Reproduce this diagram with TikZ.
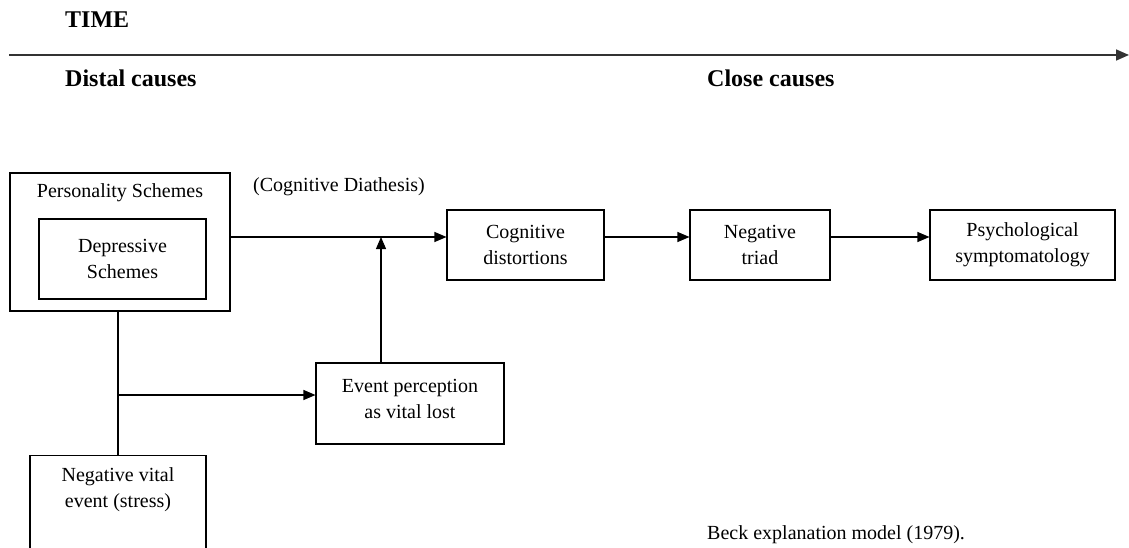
\documentclass[tikz,border=0pt]{standalone}
\usepackage{fontspec}
\setmainfont{Liberation Serif}
\usetikzlibrary{arrows.meta}
\newcommand{\bodyfont}{\fontsize{20}{26}\selectfont}
\newcommand{\headfont}{\fontsize{24}{28}\selectfont\bfseries}

\begin{document}
\begin{tikzpicture}[x=1pt,y=-1pt,
	box/.style={draw,line width=1.1pt,align=center,font=\bodyfont,inner sep=0pt},
	txt/.style={align=center,font=\bodyfont,inner sep=0pt},
	head/.style={anchor=west,font=\headfont,inner sep=0pt},
	flow/.style={line width=1.1pt,-{Triangle[length=12pt,width=10pt]}}]
	\useasboundingbox (0,0) rectangle (1129,548);
	\clip (0,0) rectangle (1129,548);
	% time axis
	\node[head] (time) at (65,20) {TIME};
	\coordinate (tstart) at (9,55);
	\coordinate (tend) at (1129,55);
	\draw[line width=1.6pt,draw=black!80,-{Triangle[length=13pt,width=11pt]}] (tstart) -- (tend);
	\node[head] (distal) at (65,78) {Distal causes};
	\node[head] (close) at (707,78) {Close causes};
	% schemes
	\node[box,minimum width=220pt,minimum height=138pt] (pers) at (120,242) {};
	\node[txt] (perstxt) at (120,193) {Personality Schemes};
	\node[box,minimum width=167pt,minimum height=80pt] (depr) at (122.5,259) {Depressive\\Schemes};
	\node[txt,anchor=west] (diath) at (253,187) {(Cognitive Diathesis)};
	% chain
	\node[box,minimum width=157pt,minimum height=70pt] (cogn) at (525.5,245) {Cognitive\\distortions};
	\node[box,minimum width=140pt,minimum height=70pt] (triad) at (760,245) {Negative\\triad};
	\node[box,minimum width=185pt,minimum height=70pt] (symp) at (1022.5,245) {Psychological\\symptomatology};
	\node[box,minimum width=188pt,minimum height=81pt] (event) at (410,403.5) {};
	\node[txt] (eventtxt) at (410,398.5) {Event perception\\as vital lost};
	\node[box,minimum width=176pt,minimum height=130pt,anchor=north] (stress) at (118,455) {};
	\node[txt] (stresstxt) at (118,490) {Negative vital\\event (stress)};
	% connectors
	\coordinate (jn) at (381,237);
	\coordinate (br) at (118,395);
	\draw[flow] (pers.east |- jn) -- (cogn.west |- jn);
	\draw[flow] (event.north -| jn) -- (jn);
	\draw[flow] (cogn.east |- jn) -- (triad.west |- jn);
	\draw[flow] (triad.east |- jn) -- (symp.west |- jn);
	\draw[line width=1.1pt] (pers.south -| br) -- (stress.north -| br);
	\draw[flow] (br) -- (event.west |- br);
	\node[txt,anchor=west] (beck) at (707,535) {Beck explanation model (1979).};
\end{tikzpicture}
\end{document}
